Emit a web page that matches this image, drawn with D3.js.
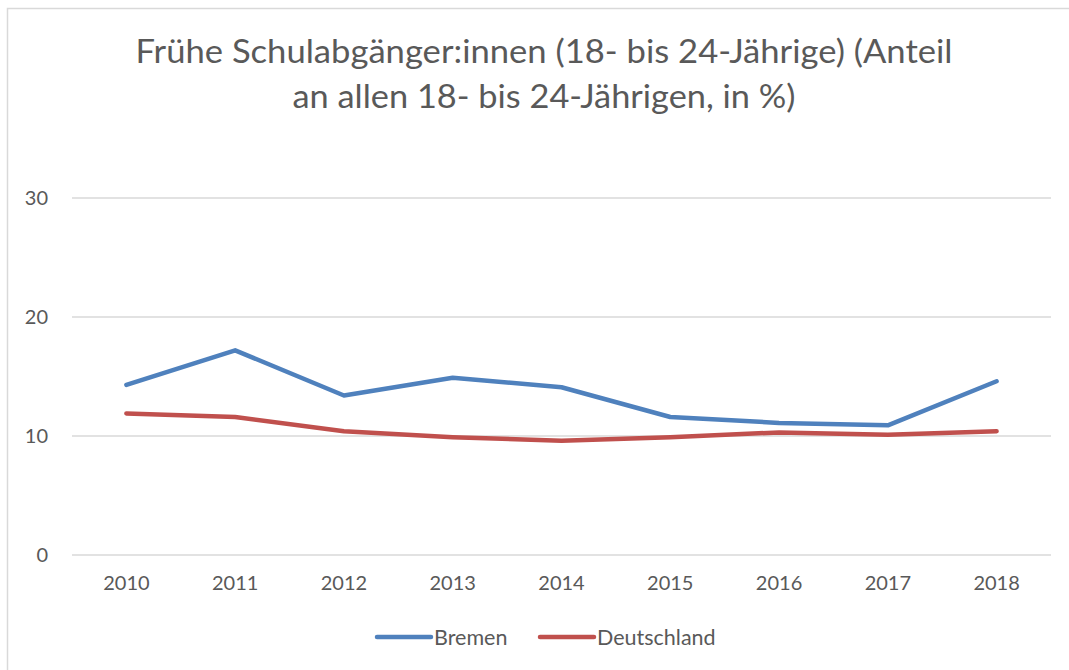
<!DOCTYPE html>
<html>
<head>
<meta charset="utf-8">
<script src="https://cdn.jsdelivr.net/npm/d3@7"></script>
<style>
  html, body { margin: 0; padding: 0; background: #fff; }
  svg { display: block; font-family: Lato, "Open Sans", sans-serif; }
</style>
</head>
<body>
<svg id="chart" width="1069" height="670"></svg>
<script>
const years = ["2010", "2011", "2012", "2013", "2014", "2015", "2016", "2017", "2018"];
const bremen = [14.3, 17.2, 13.4, 14.9, 14.1, 11.6, 11.1, 10.9, 14.6];
const deutschland = [11.9, 11.6, 10.4, 9.9, 9.6, 9.9, 10.3, 10.1, 10.4];
const yTicks = [0, 10, 20, 30];
const titleLines = ["Frühe Schulabgänger:innen (18- bis 24-Jährige) (Anteil", "an allen 18- bis 24-Jährigen, in %)"];
const titleWidths = [817, 503];

const series = [
  { name: "Bremen", values: bremen, color: "#4f81bd" },
  { name: "Deutschland", values: deutschland, color: "#c0504d" }
];

const svg = d3.select("#chart");
const margin = { top: 198, right: 18, bottom: 117, left: 72 },
  width = 1069, height = 670,
  plotWidth = width - margin.left - margin.right,
  plotHeight = height - margin.top - margin.bottom;

// outer chart border (only top/left visible in frame)
svg.append("rect")
  .attr("x", 7.5).attr("y", 8.5)
  .attr("width", 1100).attr("height", 700)
  .attr("fill", "none").attr("stroke", "#d9d9d9").attr("stroke-width", 1.5);

svg.selectAll(".title").data(titleLines).enter()
  .append("text")
  .attr("class", "title")
  .attr("x", 544)
  .attr("y", (d, i) => 63 + i * 45)
  .attr("text-anchor", "middle")
  .attr("fill", "#595959")
  .attr("textLength", (d, i) => titleWidths[i])
  .attr("lengthAdjust", "spacingAndGlyphs")
  .style("font-size", "32px")
  .text(d => d);

const g = svg.append("g").attr("transform", `translate(${margin.left},${margin.top})`);

const x = d3.scaleBand().domain(years).range([0, plotWidth]);
const y = d3.scaleLinear().domain([0, 30]).range([plotHeight + 2, 0]);

// gridlines
g.selectAll(".grid").data(yTicks).enter()
  .append("line")
  .attr("x1", 0).attr("x2", plotWidth)
  .attr("y1", d => y(d)).attr("y2", d => y(d))
  .attr("stroke", "#d9d9d9").attr("stroke-width", 1.5);

// y axis labels
const yAxis = g.append("g").call(d3.axisLeft(y).tickValues(yTicks).tickSize(0).tickPadding(24));
yAxis.select(".domain").remove();
yAxis.selectAll("text").attr("fill", "#595959").style("font-size", "20px").style("font-family", "Lato, 'Open Sans', sans-serif");

// x axis labels
const xAxis = g.append("g").attr("transform", `translate(0,${y(0)})`)
  .call(d3.axisBottom(x).tickSize(0).tickPadding(21));
xAxis.select(".domain").remove();
xAxis.selectAll("text").attr("fill", "#595959").style("font-size", "20px").style("font-family", "Lato, 'Open Sans', sans-serif");

const line = d3.line()
  .x((d, i) => x(years[i]) + x.bandwidth() / 2)
  .y(d => y(d));

g.selectAll(".series").data(series).enter()
  .append("path")
  .attr("fill", "none")
  .attr("stroke", d => d.color)
  .attr("stroke-width", 4.5)
  .attr("stroke-linecap", "round")
  .attr("stroke-linejoin", "round")
  .attr("d", d => line(d.values));

// legend
const legendX = [377, 540];
const legend = svg.selectAll(".legend").data(series).enter()
  .append("g")
  .attr("transform", (d, i) => `translate(${legendX[i]},637)`);
legend.append("line")
  .attr("x1", 0).attr("x2", 54)
  .attr("stroke", d => d.color).attr("stroke-width", 4.5).attr("stroke-linecap", "round");
legend.append("text")
  .attr("x", 57).attr("y", 8)
  .attr("fill", "#595959")
  .style("font-size", "21.5px")
  .text(d => d.name);
</script>
</body>
</html>
